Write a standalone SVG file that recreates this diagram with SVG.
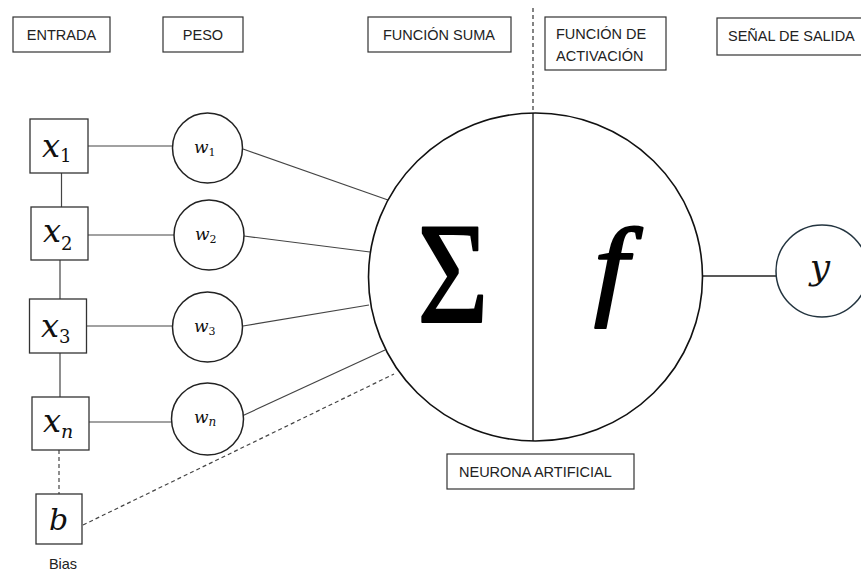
<svg xmlns="http://www.w3.org/2000/svg" width="861" height="572" viewBox="0 0 861 572">
  <style>
    .lbl { fill: #fff; stroke: #333; stroke-width: 1.2; }
    .lt { font-family: "Liberation Sans", Arial, sans-serif; font-size: 14.5px; fill: #222; }
    .box { fill: #fff; stroke: #333; stroke-width: 1.3; }
    .wc { fill: #fff; stroke: #222; stroke-width: 1.5; }
    .var { font-family: "DejaVu Serif", serif; font-style: italic; fill: #111; }
    .sub { font-family: "DejaVu Serif", serif; fill: #111; }
    .ln { stroke: #444; stroke-width: 1.2; fill: none; }
    .dash { stroke: #444; stroke-width: 1.2; fill: none; stroke-dasharray: 4 3; }
    .big { font-family: "Liberation Serif", serif; fill: #000; stroke: #000; stroke-width: 2.2; stroke-linejoin: round; }
  </style>

  <rect width="861" height="572" fill="#fff"/>

  <!-- connectors -->
  <g id="connectors">
    <!-- input chain -->
    <line class="ln" x1="61.5" y1="173" x2="61.5" y2="207"/>
    <line class="ln" x1="60" y1="260" x2="60" y2="299"/>
    <line class="ln" x1="60" y1="353" x2="60" y2="397"/>
    <line class="dash" x1="59" y1="450" x2="59" y2="494"/>
    <!-- inputs to weights -->
    <line class="ln" x1="88" y1="146" x2="172.5" y2="146"/>
    <line class="ln" x1="88" y1="235" x2="174" y2="235"/>
    <line class="ln" x1="87" y1="326" x2="172.5" y2="326"/>
    <line class="ln" x1="89" y1="422" x2="171.5" y2="422"/>
    <!-- weights to neuron -->
    <line class="ln" x1="243" y1="149" x2="388" y2="200"/>
    <line class="ln" x1="244" y1="236" x2="370" y2="252"/>
    <line class="ln" x1="243" y1="326" x2="369" y2="305"/>
    <line class="ln" x1="242" y1="416" x2="385" y2="350"/>
    <!-- bias -->
    <line class="dash" x1="83" y1="525" x2="394" y2="374"/>
    <!-- output -->
    <line x1="703" y1="276" x2="776" y2="276" stroke="#222" stroke-width="1.5"/>
    <!-- separator between sum and activation -->
    <line x1="533" y1="8" x2="533" y2="112" stroke="#333" stroke-width="1.2" stroke-dasharray="4 3"/>
  </g>

  <!-- header labels -->
  <g id="lbl-entrada">
    <rect class="lbl" x="13" y="17" width="97" height="35"/>
    <text class="lt" x="61.5" y="39.5" text-anchor="middle">ENTRADA</text>
  </g>
  <g id="lbl-peso">
    <rect class="lbl" x="163" y="17" width="80" height="35"/>
    <text class="lt" x="203" y="39.5" text-anchor="middle">PESO</text>
  </g>
  <g id="lbl-suma">
    <rect class="lbl" x="368" y="17" width="143" height="35"/>
    <text class="lt" x="439" y="39.5" text-anchor="middle">FUNCIÓN SUMA</text>
  </g>
  <g id="lbl-activacion">
    <rect class="lbl" x="545" y="17" width="121" height="53"/>
    <text class="lt" x="556" y="38.5">FUNCIÓN DE</text>
    <text class="lt" x="556" y="60.5">ACTIVACIÓN</text>
  </g>
  <g id="lbl-salida">
    <rect class="lbl" x="717" y="18" width="150" height="37"/>
    <text class="lt" x="728" y="40.5">SEÑAL DE SALIDA</text>
  </g>

  <!-- inputs -->
  <g id="x1">
    <rect class="box" x="30" y="119" width="58" height="54"/>
    <text x="42" y="157"><tspan class="var" font-size="32">x</tspan><tspan class="sub" font-size="18" dy="5">1</tspan></text>
  </g>
  <g id="x2">
    <rect class="box" x="31" y="207" width="57" height="53"/>
    <text x="43" y="242"><tspan class="var" font-size="32">x</tspan><tspan class="sub" font-size="18" dy="8">2</tspan></text>
  </g>
  <g id="x3">
    <rect class="box" x="29.5" y="299" width="57" height="54"/>
    <text x="41" y="337"><tspan class="var" font-size="32">x</tspan><tspan class="sub" font-size="18" dy="6">3</tspan></text>
  </g>
  <g id="xn">
    <rect class="box" x="32" y="397" width="57" height="53"/>
    <text x="43" y="432"><tspan class="var" font-size="32">x</tspan><tspan class="var" font-size="19" dy="6">n</tspan></text>
  </g>
  <g id="bias">
    <rect class="box" x="36" y="494" width="46" height="50"/>
    <text class="var" x="58.5" y="530" font-size="30" text-anchor="middle">b</text>
    <text class="lt" x="63" y="569" text-anchor="middle">Bias</text>
  </g>

  <!-- weights -->
  <g id="w1">
    <circle class="wc" cx="207.5" cy="148" r="35"/>
    <text x="194" y="153"><tspan class="var" font-size="17">w</tspan><tspan class="sub" font-size="11" dy="3">1</tspan></text>
  </g>
  <g id="w2">
    <circle class="wc" cx="209" cy="235" r="35"/>
    <text x="195" y="240"><tspan class="var" font-size="17">w</tspan><tspan class="sub" font-size="11" dy="3">2</tspan></text>
  </g>
  <g id="w3">
    <circle class="wc" cx="207.5" cy="327" r="35"/>
    <text x="194" y="332"><tspan class="var" font-size="17">w</tspan><tspan class="sub" font-size="11" dy="3">3</tspan></text>
  </g>
  <g id="wn">
    <circle class="wc" cx="207.5" cy="419" r="36"/>
    <text x="194" y="423"><tspan class="var" font-size="17">w</tspan><tspan class="var" font-size="12" dy="3">n</tspan></text>
  </g>

  <!-- artificial neuron: sum and activation -->
  <g id="neuron">
    <ellipse cx="535.5" cy="277" rx="167" ry="164" fill="#fff" stroke="#111" stroke-width="1.6"/>
    <line x1="533" y1="113" x2="533" y2="441" stroke="#111" stroke-width="1.3"/>
    <text class="big" transform="translate(453 322) scale(0.84 1)" font-size="145" text-anchor="middle">Σ</text>
    <text class="big" transform="translate(611 305) scale(1.12 1)" font-style="italic" font-size="110" text-anchor="middle">f</text>
  </g>
  <g id="lbl-neurona">
    <rect class="lbl" x="447" y="454" width="187" height="35"/>
    <text class="lt" x="459" y="477">NEURONA ARTIFICIAL</text>
  </g>

  <!-- output -->
  <g id="y">
    <circle cx="822" cy="271" r="46" fill="#fff" stroke="#23343f" stroke-width="1.5"/>
    <text class="var" x="820" y="279" font-size="36" text-anchor="middle">y</text>
  </g>
</svg>
